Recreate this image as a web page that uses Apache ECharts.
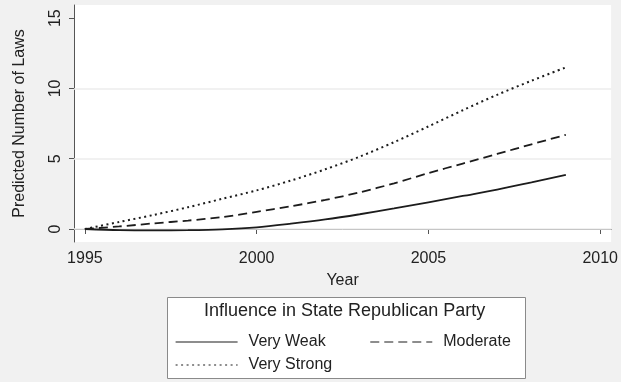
<!DOCTYPE html>
<html>
<head>
<meta charset="utf-8">
<script src="https://cdn.jsdelivr.net/npm/echarts@6/dist/echarts.min.js"></script>
<style>
html,body{margin:0;padding:0;background:#f1f1f1;}
#chart{width:621px;height:382px;}
</style>
</head>
<body>
<div id="chart"></div>
<script>
var years = [1995,1996,1997,1998,1999,2000,2001,2002,2003,2004,2005,2006,2007,2008,2009];
var veryWeak   = [0,-0.08,-0.1,-0.08,-0.02,0.12,0.38,0.68,1.05,1.46,1.90,2.35,2.80,3.32,3.85];
var moderate   = [0,0.18,0.40,0.60,0.85,1.22,1.62,2.07,2.61,3.25,3.98,4.66,5.34,6.03,6.70];
var veryStrong = [0,0.50,1.00,1.55,2.15,2.75,3.45,4.25,5.15,6.18,7.30,8.45,9.55,10.55,11.5];
var seriesNames = ['Very Weak','Moderate','Very Strong'];
var xTicks = [1995,2000,2005,2010];
var yTicks = [0,5,10,15];
var gridValues = [0,5,10];
var legendTitle = 'Influence in State Republican Party';
var xTitle = 'Year';
var yTitle = 'Predicted Number of Laws';

function pairs(vals){ return years.map(function(y,i){ return [y, vals[i]]; }); }

var font = 'Liberation Sans, Arial, sans-serif';
var lineColor = '#1c1c1c';
var chart = echarts.init(document.getElementById('chart'), null, {renderer:'canvas'});
chart.setOption({
  backgroundColor: '#f1f1f1',
  animation: false,
  textStyle: {fontFamily: font},
  grid: {left:74, top:5, width:543, height:237, show:true, backgroundColor:'#ffffff', borderWidth:0},
  xAxis: {
    type:'value', min:1994.683, max:2010.317,
    name: xTitle, nameLocation:'middle', nameGap:31,
    nameTextStyle:{fontSize:16, color:'#222', fontFamily:font},
    axisLine:{show:true, lineStyle:{color:'#555', width:1}},
    axisTick:{show:true, length:5, customValues:xTicks, lineStyle:{color:'#555'}},
    axisLabel:{customValues:xTicks, fontSize:16, color:'#222', margin:9, fontFamily:font,
      formatter:function(v){ return String(v); }},
    splitLine:{show:false}
  },
  yAxis: {
    type:'value', min:-0.925, max:15.94,
    name: yTitle, nameLocation:'middle', nameGap:46, nameRotate:90,
    nameTextStyle:{fontSize:16, color:'#222', fontFamily:font},
    axisLine:{show:true, lineStyle:{color:'#555', width:1}},
    axisTick:{show:true, length:5, customValues:yTicks, lineStyle:{color:'#555'}},
    axisLabel:{customValues:yTicks, rotate:90, fontSize:16, color:'#222', margin:10, fontFamily:font},
    splitLine:{show:false}
  },
  title: {
    text: legendTitle, left:204, top:302, padding:0,
    textStyle:{fontSize:18, fontWeight:'normal', color:'#222', fontFamily:font}
  },
  graphic: [{
    type:'rect', z:-1, left:167, top:297,
    shape:{width:358, height:81},
    style:{fill:'#ffffff', stroke:'#8a8a8a', lineWidth:1}
  }],
  legend: [{
    data:['Very Weak','Moderate'], left:175, top:334, padding:0,
    itemWidth:62, itemHeight:14, itemGap:44,
    itemStyle:{opacity:0},
    lineStyle:{width:1.2},
    textStyle:{fontSize:16, color:'#222', fontFamily:font, padding:[0,0,0,6]}
  },{
    data:['Very Strong'], left:175, top:357, padding:0,
    itemWidth:62, itemHeight:14,
    itemStyle:{opacity:0},
    lineStyle:{width:1.2},
    textStyle:{fontSize:16, color:'#222', fontFamily:font, padding:[0,0,0,6]}
  }],
  series: [{
    name: seriesNames[0], type:'line', data:pairs(veryWeak), smooth:0.3,
    symbol:'none', lineStyle:{color:lineColor, width:1.8, type:'solid'},
    itemStyle:{color:lineColor},
    markLine:{
      silent:true, symbol:'none', label:{show:false}, z:1,
      lineStyle:{color:'#ededed', width:1.5, type:'solid'},
      data: gridValues.map(function(v){ return {yAxis:v}; })
    },
    z:3
  },{
    name: seriesNames[1], type:'line', data:pairs(moderate), smooth:0.3,
    symbol:'none', lineStyle:{color:lineColor, width:1.8, type:[9,5]},
    itemStyle:{color:lineColor}, z:3
  },{
    name: seriesNames[2], type:'line', data:pairs(veryStrong), smooth:0.3,
    symbol:'none', lineStyle:{color:lineColor, width:2, type:[2,3.5]},
    itemStyle:{color:lineColor}, z:3
  }]
});
</script>
</body>
</html>
